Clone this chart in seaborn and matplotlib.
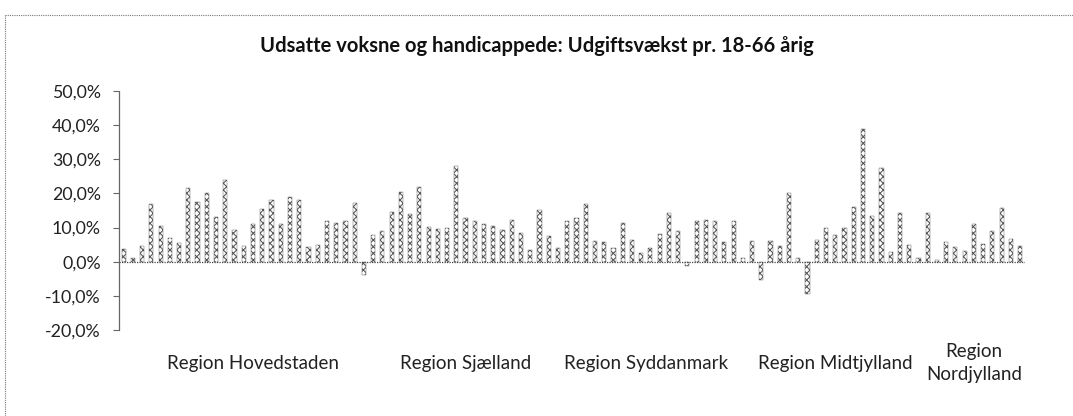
import matplotlib
matplotlib.use("Agg")
import matplotlib.pyplot as plt
from matplotlib.ticker import FuncFormatter, MultipleLocator
from matplotlib.lines import Line2D
import seaborn as sns

sns.set_style("white")
plt.rcParams['font.family'] = ['Lato', 'DejaVu Sans']
plt.rcParams['hatch.color'] = "#2e2e2e"
plt.rcParams['hatch.linewidth'] = 0.75

# growth per municipality (%), grouped by region
hovedstaden = [3.7, 1.2, 4.6, 16.8, 10.4, 7.0, 5.5, 21.5, 17.5, 20.0, 13.2, 24.0, 9.4, 4.5,
               10.9, 15.4, 18.0, 11.0, 19.0, 18.2, 4.3, 4.8, 12.0, 11.3, 12.0, 17.2, -4.0,
               7.7, 9.1]
sjaelland = [14.7, 20.3, 13.9, 22.0, 10.1, 9.6, 10.0, 28.0, 12.9, 12.0, 11.0, 10.6, 9.2,
             12.3, 8.4, 3.5, 15.0]
syddanmark = [7.4, 4.0, 12.0, 12.7, 17.0, 6.2, 5.8, 4.1, 11.3, 6.4, 2.6, 4.0, 8.0, 14.2,
              9.1, -1.4, 12.0, 12.2, 12.0, 5.8, 11.8, 1.2]
midtjylland = [6.2, -5.3, 6.1, 4.5, 20.0, 1.0, -9.6, 6.4, 9.8, 7.8, 9.8, 15.9, 39.0, 13.5,
               27.5, 2.9, 14.4, 4.8, 1.0]
nordjylland = [14.2, 0.5, 5.8, 4.3, 3.2, 10.9, 5.1, 9.1, 15.7, 6.7, 4.5]

region_names = ["Region Hovedstaden", "Region Sjælland", "Region Syddanmark",
                "Region Midtjylland", "Region\nNordjylland"]
groups = [hovedstaden, sjaelland, syddanmark, midtjylland, nordjylland]

values = [v for g in groups for v in g]
ids = [str(i) for i in range(len(values))]

fig = plt.figure(figsize=(10.73, 4.16), dpi=100)
ax = fig.add_axes([0.1109, 0.207, 0.955 - 0.1109, 0.781 - 0.207])

sns.barplot(x=ids, y=values, order=ids, color="white", width=0.45, ax=ax,
            edgecolor="#555555", linewidth=0.3)
for p in ax.patches:
    p.set_hatch("xxxxx")

ax.set_xlim(-0.5, len(values) - 0.5)
ax.set_ylim(-20, 50)
ax.yaxis.set_major_locator(MultipleLocator(10))
ax.yaxis.set_major_formatter(FuncFormatter(lambda v, _: f"{v:.1f}%".replace(".", ",")))
ax.axhline(0, color="#444444", lw=0.9, ls=(0, (1, 1)))

# region labels at the middle of each group
centers = []
start = 0
for g in groups:
    centers.append(start + (len(g) - 1) / 2)
    start += len(g)
ax.set_xticks(centers)
ax.set_xticklabels(region_names, fontsize=13.5, color="#222222", va="center",
                   linespacing=1.4)
ax.tick_params(axis="x", length=0, pad=24)
ax.tick_params(axis="y", left=True, length=4, width=0.8, color="#666666",
               labelsize=12.8, labelcolor="#222222", pad=9)

for s in ["top", "right", "bottom"]:
    ax.spines[s].set_visible(False)
ax.spines["left"].set_color("#666666")
ax.spines["left"].set_linestyle((0, (1, 1)))
ax.spines["left"].set_linewidth(0.9)
ax.set_xlabel("")
ax.set_ylabel("")

fig.text(0.5, 0.89, "Udsatte voksne og handicappede: Udgiftsvækst pr. 18-66 årig",
         ha="center", va="center", fontsize=14.5, fontweight="bold", color="#111111")

# chart frame of the scanned page
fig.add_artist(Line2D([0.005, 1.0], [0.964, 0.964], color="#777777", lw=0.8, ls=(0, (1, 1))))
fig.add_artist(Line2D([0.005, 0.005], [0.0, 0.964], color="#777777", lw=0.8, ls=(0, (1, 1))))

fig.savefig("out.png", dpi=100)
